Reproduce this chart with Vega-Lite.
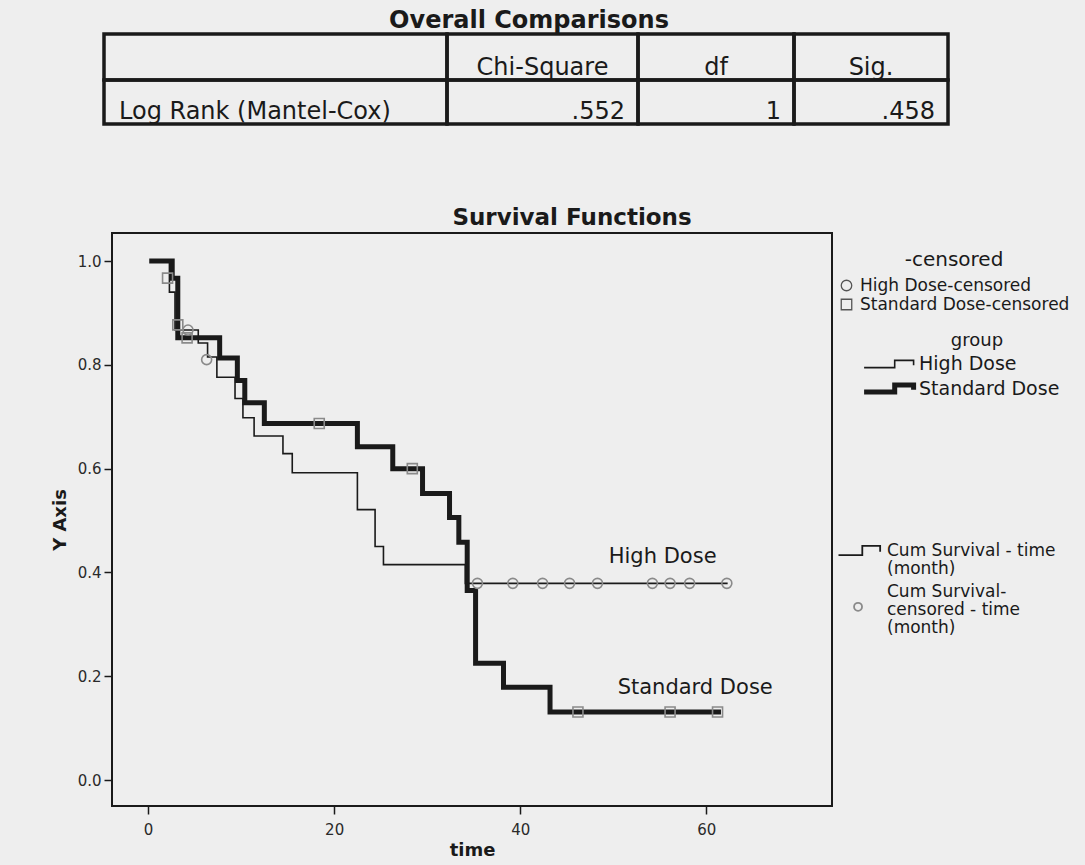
{
  "$schema": "https://vega.github.io/schema/vega-lite/v6.json",
  "background": "#eeeeee",
  "padding": {"left": 50, "top": 9, "right": 15, "bottom": 5},
  "bounds": "flush",
  "spacing": 109,
  "config": {
    "font": "DejaVu Sans",
    "axis": {"grid": false, "domain": false, "tickColor": "#1a1a1a", "tickSize": 8, "tickWidth": 1.5, "labelFont": "DejaVu Sans", "labelFontSize": 15, "labelColor": "#2a2a2a", "titleFont": "DejaVu Sans", "titleFontWeight": "bold", "titleFontSize": 18, "titleColor": "#1a1a1a"},
    "legend": {"labelFont": "DejaVu Sans", "titleFont": "DejaVu Sans", "labelColor": "#1a1a1a", "titleColor": "#1a1a1a", "labelLimit": 400, "padding": 0}
  },
  "datasets": {
    "curves": [
      {"group": "High Dose", "t": 0.4, "s": 1.0},
      {"group": "High Dose", "t": 2.3, "s": 0.94},
      {"group": "High Dose", "t": 2.9, "s": 0.867},
      {"group": "High Dose", "t": 5.4, "s": 0.842},
      {"group": "High Dose", "t": 6.4, "s": 0.815},
      {"group": "High Dose", "t": 7.4, "s": 0.776},
      {"group": "High Dose", "t": 9.35, "s": 0.735},
      {"group": "High Dose", "t": 10.2, "s": 0.698},
      {"group": "High Dose", "t": 11.4, "s": 0.663},
      {"group": "High Dose", "t": 14.5, "s": 0.629},
      {"group": "High Dose", "t": 15.5, "s": 0.592},
      {"group": "High Dose", "t": 22.5, "s": 0.521},
      {"group": "High Dose", "t": 24.4, "s": 0.45},
      {"group": "High Dose", "t": 25.3, "s": 0.415},
      {"group": "High Dose", "t": 34.1, "s": 0.379},
      {"group": "High Dose", "t": 62.2, "s": 0.379},
      {"group": "Standard Dose", "t": 0.4, "s": 1.0},
      {"group": "Standard Dose", "t": 2.6, "s": 0.967},
      {"group": "Standard Dose", "t": 3.2, "s": 0.852},
      {"group": "Standard Dose", "t": 7.7, "s": 0.813},
      {"group": "Standard Dose", "t": 9.6, "s": 0.77},
      {"group": "Standard Dose", "t": 10.4, "s": 0.727},
      {"group": "Standard Dose", "t": 12.5, "s": 0.687},
      {"group": "Standard Dose", "t": 22.5, "s": 0.642},
      {"group": "Standard Dose", "t": 26.3, "s": 0.6},
      {"group": "Standard Dose", "t": 29.5, "s": 0.552},
      {"group": "Standard Dose", "t": 32.4, "s": 0.506},
      {"group": "Standard Dose", "t": 33.4, "s": 0.458},
      {"group": "Standard Dose", "t": 34.3, "s": 0.365},
      {"group": "Standard Dose", "t": 35.2, "s": 0.225},
      {"group": "Standard Dose", "t": 38.2, "s": 0.179},
      {"group": "Standard Dose", "t": 43.2, "s": 0.131},
      {"group": "Standard Dose", "t": 61.3, "s": 0.131}
    ],
    "censored": [
      {"cens": "High Dose-censored", "t": 4.3, "s": 0.867},
      {"cens": "High Dose-censored", "t": 6.3, "s": 0.81},
      {"cens": "High Dose-censored", "t": 35.4, "s": 0.379},
      {"cens": "High Dose-censored", "t": 39.2, "s": 0.379},
      {"cens": "High Dose-censored", "t": 42.4, "s": 0.379},
      {"cens": "High Dose-censored", "t": 45.3, "s": 0.379},
      {"cens": "High Dose-censored", "t": 48.3, "s": 0.379},
      {"cens": "High Dose-censored", "t": 54.2, "s": 0.379},
      {"cens": "High Dose-censored", "t": 56.1, "s": 0.379},
      {"cens": "High Dose-censored", "t": 58.2, "s": 0.379},
      {"cens": "High Dose-censored", "t": 62.2, "s": 0.379},
      {"cens": "Standard Dose-censored", "t": 2.1, "s": 0.967},
      {"cens": "Standard Dose-censored", "t": 3.2, "s": 0.877},
      {"cens": "Standard Dose-censored", "t": 4.2, "s": 0.852},
      {"cens": "Standard Dose-censored", "t": 18.4, "s": 0.687},
      {"cens": "Standard Dose-censored", "t": 28.4, "s": 0.6},
      {"cens": "Standard Dose-censored", "t": 46.2, "s": 0.131},
      {"cens": "Standard Dose-censored", "t": 56.1, "s": 0.131},
      {"cens": "Standard Dose-censored", "t": 61.2, "s": 0.131}
    ],
    "curvelabels": [
      {"label": "High Dose", "t": 55.3, "s": 0.43},
      {"label": "Standard Dose", "t": 58.8, "s": 0.177}
    ],
    "cells": [
      {"c0": 0, "c1": 1, "r0": 0, "r1": 1},
      {"c0": 1, "c1": 2, "r0": 0, "r1": 1},
      {"c0": 2, "c1": 3, "r0": 0, "r1": 1},
      {"c0": 3, "c1": 4, "r0": 0, "r1": 1},
      {"c0": 0, "c1": 1, "r0": 1, "r1": 2},
      {"c0": 1, "c1": 2, "r0": 1, "r1": 2},
      {"c0": 2, "c1": 3, "r0": 1, "r1": 2},
      {"c0": 3, "c1": 4, "r0": 1, "r1": 2}
    ],
    "tabletext": [
      {"text": "Chi-Square", "kind": "head", "colpos": 1.5, "rowpos": 1},
      {"text": "df", "kind": "head", "colpos": 2.5, "rowpos": 1},
      {"text": "Sig.", "kind": "head", "colpos": 3.5, "rowpos": 1},
      {"text": "Log Rank (Mantel-Cox)", "kind": "label", "colpos": 0, "rowpos": 2},
      {"text": ".552", "kind": "value", "colpos": 2, "rowpos": 2},
      {"text": "1", "kind": "value", "colpos": 3, "rowpos": 2},
      {"text": ".458", "kind": "value", "colpos": 4, "rowpos": 2}
    ]
  },
  "resolve": {
    "scale": {"color": "independent", "shape": "independent", "strokeWidth": "independent"},
    "legend": {"color": "independent", "shape": "independent", "strokeWidth": "independent"}
  },
  "vconcat": [
    {
      "width": 844,
      "height": 90,
      "view": {"stroke": null},
      "title": {"text": "Overall Comparisons", "fontSize": 24, "fontWeight": "bold", "font": "DejaVu Sans", "color": "#1a1a1a", "anchor": "middle", "frame": "group", "dx": -5, "offset": -1},
      "layer": [
        {
          "data": {"name": "cells"},
          "mark": {"type": "rect", "fill": null, "stroke": "#1a1a1a", "strokeWidth": 3.5},
          "encoding": {
            "x": {"field": "c0", "type": "quantitative", "scale": {"domain": [0, 1, 2, 3, 4], "range": [-8, 335, 526, 682, 836], "nice": false, "zero": false}, "axis": null},
            "x2": {"field": "c1"},
            "y": {"field": "r0", "type": "quantitative", "scale": {"domain": [0, 1, 2], "range": [0, 46, 90], "nice": false, "zero": false}, "axis": null},
            "y2": {"field": "r1"}
          }
        },
        {
          "data": {"name": "tabletext"},
          "transform": [{"filter": "datum.kind == 'head'"}],
          "mark": {"type": "text", "align": "center", "baseline": "alphabetic", "dy": -5, "fontSize": 24, "color": "#1a1a1a"},
          "encoding": {
            "x": {"field": "colpos", "type": "quantitative"},
            "y": {"field": "rowpos", "type": "quantitative"},
            "text": {"field": "text"}
          }
        },
        {
          "data": {"name": "tabletext"},
          "transform": [{"filter": "datum.kind == 'label'"}],
          "mark": {"type": "text", "align": "left", "baseline": "alphabetic", "dx": 15, "dy": -5, "fontSize": 24, "color": "#1a1a1a"},
          "encoding": {
            "x": {"field": "colpos", "type": "quantitative"},
            "y": {"field": "rowpos", "type": "quantitative"},
            "text": {"field": "text"}
          }
        },
        {
          "data": {"name": "tabletext"},
          "transform": [{"filter": "datum.kind == 'value'"}],
          "mark": {"type": "text", "align": "right", "baseline": "alphabetic", "dx": -13, "dy": -5, "fontSize": 24, "color": "#1a1a1a"},
          "encoding": {
            "x": {"field": "colpos", "type": "quantitative"},
            "y": {"field": "rowpos", "type": "quantitative"},
            "text": {"field": "text"}
          }
        }
      ]
    },
    {
      "width": 720,
      "height": 573,
      "view": {"stroke": "#1a1a1a", "strokeWidth": 2},
      "title": {"text": "Survival Functions", "fontSize": 23, "fontWeight": "bold", "font": "DejaVu Sans", "color": "#1a1a1a", "anchor": "middle", "frame": "group", "dx": 100, "offset": 3},
      "encoding": {
        "x": {"field": "t", "type": "quantitative", "scale": {"domain": [-3.87, 73.5], "nice": false, "zero": false}, "axis": {"values": [0, 20, 40, 60], "title": "time", "labelPadding": 8, "titlePadding": 4}},
        "y": {"field": "s", "type": "quantitative", "scale": {"domain": [-0.05, 1.054], "nice": false, "zero": false}, "axis": {"values": [0, 0.2, 0.4, 0.6, 0.8, 1.0], "format": ".1f", "title": "Y Axis", "labelPadding": 3, "titlePadding": 8}}
      },
      "layer": [
        {
          "data": {"name": "curves"},
          "mark": {"type": "line", "interpolate": "step-after", "strokeCap": "square", "strokeJoin": "miter"},
          "encoding": {
            "detail": {"field": "group"},
            "strokeWidth": {"field": "group", "type": "nominal", "scale": {"domain": ["High Dose", "Standard Dose"], "range": [1.6, 5]},
              "legend": {"title": "group", "orient": "none", "legendX": 782, "legendY": 99, "symbolType": "M-4.6,0.4H-1.2V-0.4H0.9V0.15", "symbolSize": 324, "symbolStrokeColor": "#1a1a1a", "labelFontSize": 19, "titleFontSize": 18, "titleFontWeight": "normal", "titleAnchor": "middle", "rowPadding": 0, "labelOffset": 2, "titlePadding": 4}},
            "color": {"datum": "Cum Survival - time (month)", "type": "nominal",
              "scale": {"domain": ["Cum Survival - time (month)", "Cum Survival-censored - time (month)"], "range": ["#1a1a1a", "#8a8a8a"]},
              "legend": {"title": null, "orient": "none", "legendX": 751, "legendY": 308, "labelFontSize": 17, "labelOffset": 5, "rowPadding": 5, "symbolSize": 289,
                "labelExpr": "datum.value == 'Cum Survival - time (month)' ? ['Cum Survival - time', '(month)'] : ['Cum Survival-', 'censored - time', '(month)']",
                "encode": {
                  "labels": {"update": {"lineHeight": {"value": 18}}},
                  "symbols": {"update": {
                  "shape": {"signal": "datum.value == 'Cum Survival - time (month)' ? 'M-4,0.55H-1.2V-0.55H0.9V0.15' : 'M-2.17,1.8A0.47,0.47 0 1,0 -1.23,1.8A0.47,0.47 0 1,0 -2.17,1.8Z'"},
                  "fill": {"value": "transparent"},
                  "stroke": {"signal": "datum.value == 'Cum Survival - time (month)' ? '#1a1a1a' : '#777777'"},
                  "strokeWidth": {"value": 1.8}}}}}}
          }
        },
        {
          "data": {"name": "censored"},
          "mark": {"type": "point", "filled": false, "strokeWidth": 1.6, "size": 100, "opacity": 1},
          "encoding": {
            "shape": {"field": "cens", "type": "nominal", "scale": {"domain": ["High Dose-censored", "Standard Dose-censored"], "range": ["circle", "square"]},
              "legend": {"title": "-censored", "orient": "none", "legendX": 726, "legendY": 17, "symbolSize": 110, "symbolStrokeColor": "#555555", "symbolFillColor": "transparent", "symbolStrokeWidth": 1.3, "labelFontSize": 17, "titleFontSize": 20, "titleFontWeight": "normal", "titleAnchor": "middle", "rowPadding": 1, "labelOffset": 5, "titlePadding": 7}},
            "color": {"datum": "Cum Survival-censored - time (month)", "type": "nominal"}
          }
        },
        {
          "data": {"name": "curvelabels"},
          "mark": {"type": "text", "align": "center", "baseline": "middle", "fontSize": 21, "color": "#1a1a1a"},
          "encoding": {"text": {"field": "label"}}
        }
      ]
    }
  ]
}
